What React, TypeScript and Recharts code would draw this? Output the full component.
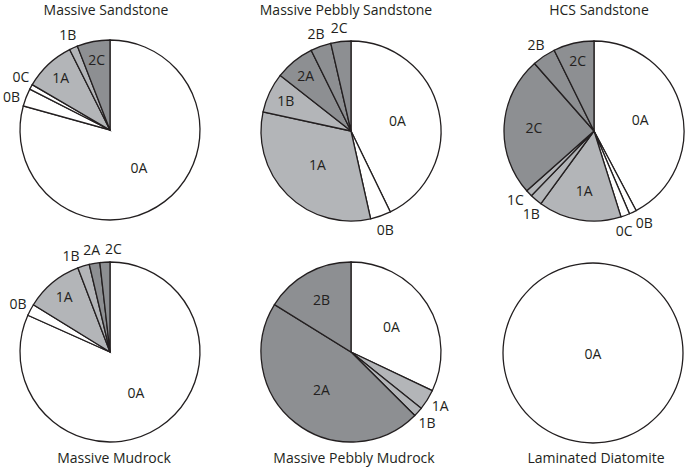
import { PieChart, Pie, Cell } from "recharts";

// slice names and percentages, clockwise from 12 o'clock
const sandstoneNames = ["0A", "0B", "0C", "1A", "1B", "2C"];
const sandstoneValues = [79.3, 3.2, 0.9, 9.2, 1.5, 5.9];

const pebblySandstoneNames = ["0A", "0B", "1A", "1B", "2A", "2B", "2C"];
const pebblySandstoneValues = [42.8, 3.7, 31.9, 7.2, 7.1, 3.7, 3.6];

const hcsNames = ["0A", "0B", "0C", "1A", "1B", "1C", "2C", "2B", "2C"];
const hcsValues = [42.3, 1.3, 1.6, 14.9, 2.2, 1.2, 25.1, 4.2, 7.3];

const mudrockNames = ["0A", "0B", "1A", "1B", "2A", "2C"];
const mudrockValues = [81.7, 2.1, 10.4, 2.1, 1.9, 1.8];

const pebblyMudrockNames = ["0A", "1A", "1B", "2A", "2B"];
const pebblyMudrockValues = [32.1, 3.7, 1.7, 46.4, 16.2];

const diatomiteNames = ["0A"];
const diatomiteValues = [100];

const titles = [
  "Massive Sandstone",
  "Massive Pebbly Sandstone",
  "HCS Sandstone",
  "Massive Mudrock",
  "Massive Pebbly Mudrock",
  "Laminated Diatomite",
];

const INK = "#231f20";
const FONT = "'Open Sans', sans-serif";
const RAD = Math.PI / 180;
const R = 90;
const OUTSIDE = 0.05; // slices smaller than this get their label outside
const MIN_GAP = 12; // degrees between neighbouring outside labels

const fills: Record<string, string> = {
  "0": "#ffffff",
  "1": "#b3b5b8",
  "2": "#8d8f92",
};

const toRows = (names: string[], values: number[]) =>
  names.map((name, i) => ({ name, value: values[i] }));

// angular nudge for outside labels so that neighbours don't collide
function labelShifts(values: number[]) {
  const total = values.reduce((a, b) => a + b, 0);
  let acc = 0;
  const mids = values.map((v) => {
    const m = ((acc + v / 2) / total) * 360;
    acc += v;
    return m;
  });
  const idx = values.map((v, i) => i).filter((i) => values[i] / total < OUTSIDE);
  const pos = idx.map((i) => mids[i]);
  for (let it = 0; it < 30; it++) {
    for (let k = 1; k < pos.length; k++) {
      const gap = pos[k] - pos[k - 1];
      if (gap < MIN_GAP) {
        const d = (MIN_GAP - gap) / 2;
        pos[k - 1] -= d;
        pos[k] += d;
      }
    }
  }
  const shifts = values.map(() => 0);
  idx.forEach((i, k) => (shifts[i] = pos[k] - mids[i]));
  return shifts;
}

const pies = [
  { names: sandstoneNames, values: sandstoneValues, cx: 110, cy: 130 },
  { names: pebblySandstoneNames, values: pebblySandstoneValues, cx: 351, cy: 131 },
  { names: hcsNames, values: hcsValues, cx: 594, cy: 131 },
  { names: mudrockNames, values: mudrockValues, cx: 110, cy: 352 },
  { names: pebblyMudrockNames, values: pebblyMudrockValues, cx: 351, cy: 352 },
  { names: diatomiteNames, values: diatomiteValues, cx: 593, cy: 353 },
];

const titlePos = [
  { x: 106, top: 0 },
  { x: 346, top: 0 },
  { x: 599, top: 0 },
  { x: 114, top: 448 },
  { x: 354, top: 448 },
  { x: 596, top: 448 },
];

const makeLabel = (shifts: number[]) => (props: any) => {
  const { cx, cy, midAngle, outerRadius, percent, name, index } = props;
  let r;
  if (percent > 0.99) r = 0;
  else if (percent < OUTSIDE) r = outerRadius + 14;
  else if (percent >= 0.3) r = outerRadius * 0.53;
  else if (percent >= 0.12) r = outerRadius * 0.67;
  else r = outerRadius * 0.8;
  // shifts are clockwise degrees, recharts angles run counter-clockwise
  const a = midAngle - (shifts[index] || 0);
  const x = cx + r * Math.cos(-a * RAD);
  const y = cy + r * Math.sin(-a * RAD);
  return (
    <text
      key={`l-${index}`}
      x={x}
      y={y}
      textAnchor="middle"
      dominantBaseline="central"
      fontFamily={FONT}
      fontSize={14}
      fill={INK}
    >
      {name}
    </text>
  );
};

export default function App() {
  return (
    <div
      style={{
        position: "absolute",
        left: 0,
        top: 0,
        width: 689,
        height: 470,
        background: "#fff",
        fontFamily: FONT,
      }}
    >
      <PieChart
        width={689}
        height={470}
        margin={{ top: 0, right: 0, bottom: 0, left: 0 }}
      >
        {pies.map((p, k) => {
          const rows = toRows(p.names, p.values);
          const full = rows.length === 1;
          return (
            <Pie
              key={k}
              data={rows}
              dataKey="value"
              nameKey="name"
              cx={p.cx}
              cy={p.cy}
              outerRadius={R}
              startAngle={90}
              endAngle={-270}
              stroke={full ? "none" : INK}
              strokeWidth={1.3}
              label={makeLabel(labelShifts(p.values))}
              labelLine={false}
              isAnimationActive={false}
            >
              {rows.map((d, i) => (
                <Cell key={i} fill={fills[d.name[0]]} />
              ))}
            </Pie>
          );
        })}
        {/* outline ring for the single-slice pie (avoids the radius seam) */}
        <Pie
          data={toRows(diatomiteNames, diatomiteValues)}
          dataKey="value"
          cx={pies[5].cx}
          cy={pies[5].cy}
          innerRadius={R - 0.65}
          outerRadius={R + 0.65}
          startAngle={90}
          endAngle={-270}
          fill={INK}
          stroke="none"
          isAnimationActive={false}
        />
      </PieChart>
      {titles.map((t, i) => (
        <div
          key={t}
          style={{
            position: "absolute",
            left: titlePos[i].x,
            top: titlePos[i].top,
            transform: "translateX(-50%)",
            whiteSpace: "nowrap",
            fontSize: 14,
            lineHeight: "19px",
            color: INK,
          }}
        >
          {t}
        </div>
      ))}
    </div>
  );
}
